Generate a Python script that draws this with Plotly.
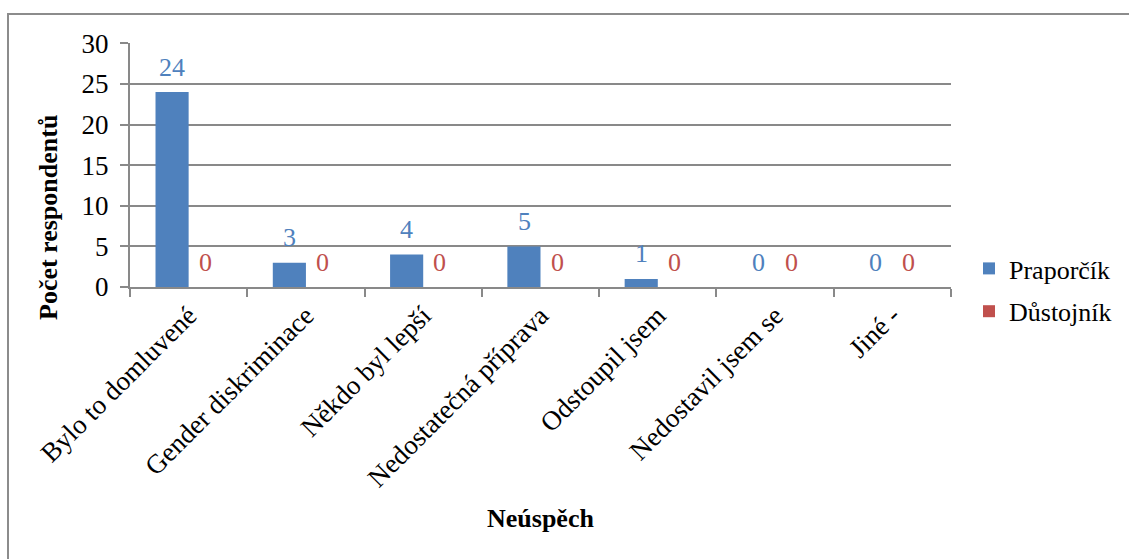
import plotly.graph_objects as go

# Reasons for failure and respondent counts by rank
categories = [
    "Bylo to domluvené",
    "Gender diskriminace",
    "Někdo byl lepší",
    "Nedostatečná příprava",
    "Odstoupil jsem",
    "Nedostavil jsem se",
    "Jiné -",
]
praporcik = [24, 3, 4, 5, 1, 0, 0]
dustojnik = [0, 0, 0, 0, 0, 0, 0]

BLUE = "#4F81BD"
RED = "#C0504D"
GRID = "#898989"
FONT = "Liberation Serif, Times New Roman, serif"
FS = 26

W, H = 1129, 559
L, R, T, B = 130, 951, 43, 287  # plot area in pixels

fig = go.Figure()
fig.add_trace(go.Bar(
    x=categories, y=praporcik, name="Praporčík",
    marker=dict(color=BLUE, line=dict(width=0)),
    legendgroup="a",
))
fig.add_trace(go.Bar(
    x=categories, y=dustojnik, name="Důstojník",
    marker=dict(color=RED, line=dict(width=0)),
    legendgroup="b",
))

# value labels above each bar of the group
labels = []
for series, color, shift in ((praporcik, BLUE, -16.5), (dustojnik, RED, 16.5)):
    for cat, val in zip(categories, series):
        labels.append(dict(
            x=cat, y=val, xref="x", yref="y", text=str(val),
            showarrow=False, xshift=shift, yshift=25,
            xanchor="center", yanchor="middle",
            font=dict(color=color, size=FS, family=FONT),
        ))

fig.update_layout(
    width=W, height=H,
    margin=dict(l=L, r=W - R, t=T, b=H - B, pad=0, autoexpand=False),
    paper_bgcolor="white", plot_bgcolor="white",
    font=dict(family=FONT, size=FS, color="black"),
    barmode="group", bargap=0.435, bargroupgap=0,
    showlegend=True,
    legend=dict(
        x=(969 - L) / (R - L), xanchor="left",
        y=(B - 245) / (B - T), yanchor="top",
        font=dict(size=FS, family=FONT),
        tracegroupgap=6, itemwidth=30,
        bgcolor="rgba(0,0,0,0)",
    ),
    xaxis=dict(
        type="category", tickangle=-45, tickson="boundaries",
        ticks="outside", ticklen=8, tickcolor=GRID, tickwidth=2,
        showline=True, linecolor=GRID, linewidth=2,
        showgrid=False, tickfont=dict(size=27, family=FONT),
        automargin=False,
    ),
    yaxis=dict(
        range=[0, 30.04], tickvals=[0, 5, 10, 15, 20, 25, 30],
        ticks="outside", ticklen=8, ticklabelstandoff=6,
        tickcolor=GRID, tickwidth=2,
        showline=True, linecolor=GRID, linewidth=2,
        showgrid=True, gridcolor=GRID, gridwidth=2,
        tickfont=dict(size=27, family=FONT), zeroline=False,
        automargin=False,
    ),
    shapes=[dict(
        type="rect", xref="paper", yref="paper",
        x0=(8 - L) / (R - L), x1=(W + 20 - L) / (R - L),
        y0=(B - (H + 20)) / (B - T), y1=(B - 14) / (B - T),
        line=dict(color="#8C8C8C", width=2), layer="below",
    )],
    annotations=labels + [
        dict(text="<b>Počet respondentů</b>", xref="paper", yref="paper",
             x=(48 - L) / (R - L), y=(B - 218) / (B - T),
             xanchor="center", yanchor="middle", textangle=-90,
             showarrow=False, font=dict(size=FS, family=FONT)),
        dict(text="<b>Neúspěch</b>", xref="paper", yref="paper",
             x=(540 - L) / (R - L), y=(B - 518) / (B - T),
             xanchor="center", yanchor="middle",
             showarrow=False, font=dict(size=FS, family=FONT)),
    ],
)

fig.write_html("out.html")
